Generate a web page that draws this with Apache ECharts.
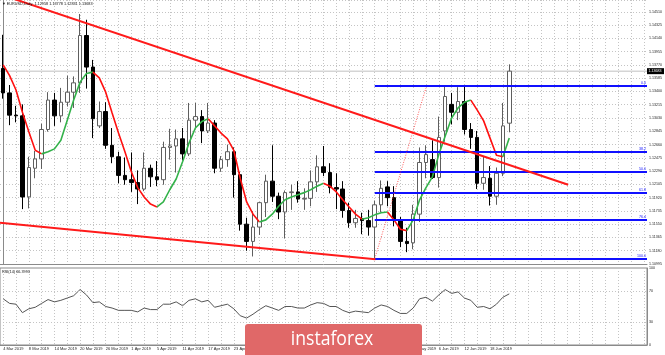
<!DOCTYPE html>
<html><head><meta charset="utf-8">
<script src="https://cdn.jsdelivr.net/npm/echarts@6/dist/echarts.min.js"></script>
<style>html,body{margin:0;padding:0;background:#fff;}#c{width:665px;height:355px;}</style>
</head><body><div id="c"></div>
<script>
const dates = ['4 Mar 2019','5 Mar 2019','6 Mar 2019','7 Mar 2019','8 Mar 2019','11 Mar 2019','12 Mar 2019','13 Mar 2019','14 Mar 2019','15 Mar 2019',
'18 Mar 2019','19 Mar 2019','20 Mar 2019','21 Mar 2019','22 Mar 2019','25 Mar 2019','26 Mar 2019','27 Mar 2019','28 Mar 2019','29 Mar 2019',
'1 Apr 2019','2 Apr 2019','3 Apr 2019','4 Apr 2019','5 Apr 2019','8 Apr 2019','9 Apr 2019','10 Apr 2019','11 Apr 2019','12 Apr 2019',
'15 Apr 2019','16 Apr 2019','17 Apr 2019','18 Apr 2019','19 Apr 2019','22 Apr 2019','23 Apr 2019','24 Apr 2019','25 Apr 2019','26 Apr 2019',
'29 Apr 2019','30 Apr 2019','1 May 2019','2 May 2019','3 May 2019','6 May 2019','7 May 2019','8 May 2019','9 May 2019','10 May 2019',
'13 May 2019','14 May 2019','15 May 2019','16 May 2019','17 May 2019','20 May 2019','21 May 2019','22 May 2019','23 May 2019','24 May 2019',
'27 May 2019','28 May 2019','29 May 2019','30 May 2019','31 May 2019','3 Jun 2019','4 Jun 2019','5 Jun 2019','6 Jun 2019','7 Jun 2019',
'10 Jun 2019','11 Jun 2019','12 Jun 2019','13 Jun 2019','14 Jun 2019','17 Jun 2019','18 Jun 2019','19 Jun 2019','20 Jun 2019','21 Jun 2019'];
const opens = [1.1372,1.1338,1.1307,1.1306,1.1193,1.1233,1.1246,1.1287,1.1328,1.1306,
1.1325,1.1339,1.1352,1.1418,1.1374,1.1292,1.1312,1.1265,1.1249,1.1223,
1.1217,1.1213,1.1204,1.1233,1.1221,1.1217,1.1262,1.1264,1.1274,1.1253,
1.1300,1.1305,1.1285,1.1296,1.1233,1.1245,1.1256,1.1224,1.1155,1.1131,
1.1151,1.1185,1.1215,1.1194,1.1172,1.1199,1.1200,1.1190,1.1191,1.1214,
1.1235,1.1227,1.1206,1.1204,1.1174,1.1157,1.1163,1.1160,1.1151,1.1182,
1.1207,1.1192,1.1160,1.1131,1.1129,1.1169,1.1241,1.1245,1.1220,1.1285,
1.1322,1.1311,1.1326,1.1287,1.1276,1.1212,1.1219,1.1194,1.1226,1.12958];
const highs = [1.1419,1.1349,1.1320,1.1322,1.1249,1.1257,1.1295,1.1339,1.1338,1.1345,
1.1362,1.1361,1.1448,1.1440,1.1384,1.1326,1.1325,1.1289,1.1256,1.1248,
1.1255,1.1230,1.1255,1.1238,1.1243,1.1270,1.1288,1.1287,1.1289,1.1324,
1.1324,1.1314,1.1324,1.1300,1.1250,1.1266,1.1262,1.1228,1.1164,1.1173,
1.1186,1.1224,1.1265,1.1199,1.1202,1.1210,1.1215,1.1205,1.1230,1.1251,
1.1264,1.1240,1.1226,1.1215,1.1185,1.1175,1.1171,1.1175,1.1188,1.1216,
1.1215,1.1208,1.1165,1.1150,1.1182,1.1262,1.1265,1.1272,1.1305,1.1348,
1.1338,1.1346,1.1348,1.1296,1.1285,1.1250,1.1236,1.1234,1.1324,1.13778];
const lows = [1.1330,1.1293,1.1297,1.1176,1.1177,1.1219,1.1232,1.1284,1.1292,1.1297,
1.1319,1.1317,1.1338,1.1344,1.1275,1.1289,1.1260,1.1240,1.1212,1.1210,
1.1200,1.1183,1.1201,1.1207,1.1208,1.1210,1.1245,1.1227,1.1244,1.1250,
1.1290,1.1268,1.1282,1.1226,1.1228,1.1235,1.1192,1.1146,1.1118,1.1110,
1.1140,1.1165,1.1186,1.1162,1.1135,1.1175,1.1185,1.1175,1.1180,1.1200,
1.1222,1.1198,1.1176,1.1164,1.1150,1.1150,1.1141,1.1139,1.1107,1.1172,
1.1180,1.1152,1.1123,1.1116,1.1120,1.1158,1.1219,1.1218,1.1206,1.1270,
1.1294,1.1300,1.1280,1.1260,1.1204,1.1203,1.1181,1.1182,1.1222,1.12831];
const closes = [1.1338,1.1307,1.1306,1.1193,1.1234,1.1246,1.1287,1.1328,1.1306,1.1325,
1.1339,1.1352,1.1418,1.1374,1.1302,1.1312,1.1265,1.1249,1.1223,1.1217,
1.1213,1.1204,1.1233,1.1221,1.1217,1.1262,1.1264,1.1274,1.1253,1.1300,
1.1305,1.1285,1.1296,1.1233,1.1245,1.1256,1.1224,1.1155,1.1131,1.1151,
1.1185,1.1215,1.1194,1.1172,1.1199,1.1200,1.1190,1.1191,1.1214,1.1235,
1.1227,1.1206,1.1204,1.1174,1.1157,1.1163,1.1160,1.1151,1.1182,1.1205,
1.1192,1.1160,1.1131,1.1128,1.1169,1.1241,1.1252,1.1220,1.1276,1.1333,
1.1311,1.1326,1.1287,1.1276,1.1212,1.1220,1.1194,1.1226,1.1292,1.13683];
const maValues = [1.1377,1.1362,1.1342,1.1311,1.1284,1.1258,1.1253,1.1256,1.1260,1.1272,
1.1300,1.1328,1.1353,1.1365,1.1367,1.1359,1.1339,1.1310,1.1282,1.1256,
1.1228,1.1206,1.1193,1.1183,1.1179,1.1186,1.1203,1.1218,1.1242,1.1268,
1.1289,1.1298,1.1302,1.1292,1.1282,1.1274,1.1258,1.1219,1.1186,1.1169,
1.1158,1.1161,1.1169,1.1180,1.1189,1.1193,1.1196,1.1199,1.1203,1.1208,
1.1212,1.1208,1.1200,1.1189,1.1179,1.1169,1.1162,1.1164,1.1168,1.1171,
1.1172,1.1161,1.1148,1.1146,1.1161,1.1189,1.1206,1.1221,1.1252,1.1278,
1.1303,1.1317,1.1325,1.1328,1.1314,1.1299,1.1275,1.1251,1.1249,1.1275];
const rsiValues = [60,54,53,42,47,49,54,59,56,58,
61,64,72,65,55,56,50,48,45,45,
45,43,48,46,46,53,53,56,51,58,
60,56,58,49,51,53,47,38,35,40,
46,51,48,45,50,50,48,48,52,55,
54,50,50,45,42,44,43,42,48,52,
50,45,41,41,48,60,62,57,65,72,
67,69,61,58,49,50,47,53,62,66.4];
const rsiTickLabels = [0, 30, 70, 100];
const rsiLevels = [30, 70];
const fibLevels = [1.1348, 1.1256, 1.1228, 1.1199, 1.1161, 1.1107];
const fibLabels = ['0.0', '38.2', '50.0', '61.8', '76.4', '100.0'];
const fibStartIndex = 58;
const fibBaseLine = [[58, 1.1107], [66, 1.1345]];
const upperTrend = [[0, 1.1474], [88.2, 1.1210]];
const lowerTrend = [[-0.5, 1.1157], [58.1, 1.1106]];
const priceMin = 1.10995, priceMax = 1.14675, priceStep = 0.00185;
const futureSlots = 21;
const headerText = '\u25BC EURUSD,Daily  1.12958 1.13778 1.12831 1.13683';
const rsiText = 'RSI(14) 66.3993';

const N = dates.length + futureSlots;
const cats = dates.concat(new Array(futureSlots).fill(''));
const FONT = 'Liberation Sans';
const gridLine = {color: '#c4c4c4', type: [1, 2], width: 1};
const axisCol = '#8a8a8a';
const lastClose = closes[closes.length - 1];

const candleData = dates.map((d, i) => [opens[i], closes[i], lows[i], highs[i]]);

const runs = [];
let s = 0;
for (let k = 1; k < maValues.length - 1; k++) {
  const d1 = maValues[k] > maValues[k - 1];
  const d2 = maValues[k + 1] > maValues[k];
  if (d1 !== d2) { runs.push([s, k]); s = k; }
}
runs.push([s, maValues.length - 1]);
const maSeries = runs.map(([a, b]) => ({
  type: 'line', xAxisIndex: 0, yAxisIndex: 0, symbol: 'none', silent: true, z: 4,
  data: cats.map((c, i) => (i >= a && i <= b) ? maValues[i] : null),
  lineStyle: {color: maValues[b] > maValues[a] ? '#33b24a' : '#ff1010', width: 1.6}
}));

const chart = echarts.init(document.getElementById('c'), null, {renderer: 'canvas'});
const option = {
  animation: false,
  backgroundColor: '#ffffff',
  grid: [
    {left: 0, width: 647, top: 0, height: 264},
    {left: 0, width: 647, top: 268, height: 77, show: true, borderColor: axisCol, borderWidth: 1}
  ],
  xAxis: [
    {type: 'category', gridIndex: 0, data: cats, boundaryGap: true,
     axisLine: {show: true, lineStyle: {color: axisCol}}, axisTick: {show: false}, axisLabel: {show: false},
     splitLine: {show: true, interval: 1, alignWithLabel: true, lineStyle: gridLine}},
    {type: 'value', gridIndex: 0, min: -0.5, max: N - 0.5, show: false},
    {type: 'category', gridIndex: 1, data: cats, boundaryGap: true,
     axisLine: {show: true, lineStyle: {color: axisCol}}, axisTick: {show: false},
     axisLabel: {interval: 3, align: 'left', fontSize: 4, color: '#222', margin: 2, fontFamily: FONT},
     splitLine: {show: true, interval: 1, alignWithLabel: true, lineStyle: gridLine}}
  ],
  yAxis: [
    {type: 'value', gridIndex: 0, position: 'right', min: priceMin, max: priceMax, interval: priceStep,
     axisLine: {show: true, lineStyle: {color: axisCol}}, axisTick: {show: false},
     axisLabel: {formatter: v => v.toFixed(5), showMaxLabel: false, fontSize: 3.6, margin: 2, color: '#222', fontFamily: FONT},
     splitLine: {show: true, lineStyle: gridLine}},
    {type: 'value', gridIndex: 1, position: 'right', min: 0, max: 100, interval: 10,
     axisLine: {show: true, lineStyle: {color: axisCol}}, axisTick: {show: false},
     axisLabel: {formatter: v => rsiTickLabels.indexOf(v) >= 0 ? String(v) : '', fontSize: 3.6, margin: 2, color: '#222', fontFamily: FONT},
     splitLine: {show: false}}
  ],
  series: [
    {type: 'candlestick', xAxisIndex: 0, yAxisIndex: 0, data: candleData, barWidth: 4, z: 3, silent: true,
     itemStyle: {color: '#ffffff', color0: '#000000', borderColor: '#5e5e5e', borderColor0: '#000000', borderWidth: 1}},
    ...maSeries,
    {type: 'line', xAxisIndex: 1, yAxisIndex: 0, symbol: 'none', silent: true, z: 2,
     data: [[-0.5, lastClose], [N - 0.5, lastClose]],
     lineStyle: {color: '#c0c0c0', width: 1}},
    {type: 'line', xAxisIndex: 1, yAxisIndex: 0, symbol: 'none', silent: true, z: 5, data: upperTrend,
     lineStyle: {color: '#ff1a1a', width: 2}},
    {type: 'line', xAxisIndex: 1, yAxisIndex: 0, symbol: 'none', silent: true, z: 5, data: lowerTrend,
     lineStyle: {color: '#ff1a1a', width: 2}},
    {type: 'line', xAxisIndex: 1, yAxisIndex: 0, symbol: 'none', silent: true, z: 5, data: fibBaseLine,
     lineStyle: {color: '#ff3030', width: 0.8, type: [1, 1.5]},
     markLine: {silent: true, symbol: 'none', animation: false,
       lineStyle: {color: '#1010ff', type: 'solid', width: 1.8},
       data: fibLevels.map((p, k) => [
         {coord: [fibStartIndex, p], name: fibLabels[k]},
         {coord: [N - 0.5, p]}
       ]),
       label: {show: true, position: 'insideEndTop', distance: [1, 0.5], formatter: '{b}', color: '#1010ff', fontSize: 3.6, fontFamily: FONT}}},
    {type: 'line', xAxisIndex: 2, yAxisIndex: 1, symbol: 'none', silent: true, z: 3, data: rsiValues,
     lineStyle: {color: '#555555', width: 1},
     markLine: {silent: true, symbol: 'none', animation: false,
       lineStyle: {color: '#c4c4c4', type: [1, 2], width: 1}, label: {show: false},
       data: rsiLevels.map(v => ({yAxis: v}))}}
  ],
  graphic: [
    {type: 'text', left: 2, top: 2, z: 20, style: {text: headerText, fill: '#111', font: '3.8px "Liberation Sans"'}},
    {type: 'text', left: 2, top: 270, z: 20, style: {text: rsiText, fill: '#111', font: '3.8px "Liberation Sans"'}},
    {type: 'rect', z: 30, shape: {x: 245, y: 324, width: 177, height: 40, r: 3}, style: {fill: '#e06868'}},
    {type: 'text', z: 31, x: 332, y: 339, scaleX: 0.88, style: {text: 'instaforex', fill: '#ffffff', font: '20px "Open Sans"', textAlign: 'center', textVerticalAlign: 'middle'}}
  ]
};
chart.setOption(option);
// current-price tag on the price axis, placed through the axis scale
const py = chart.convertToPixel({yAxisIndex: 0}, lastClose);
chart.setOption({graphic: [
  {type: 'rect', id: 'tag', z: 40, shape: {x: 647, y: py - 3, width: 17, height: 6}, style: {fill: '#000'}},
  {type: 'text', id: 'tagt', z: 41, x: 648.5, y: py, style: {text: lastClose.toFixed(5), fill: '#fff', font: '3.6px "Liberation Sans"', textVerticalAlign: 'middle'}}]});
</script></body></html>
